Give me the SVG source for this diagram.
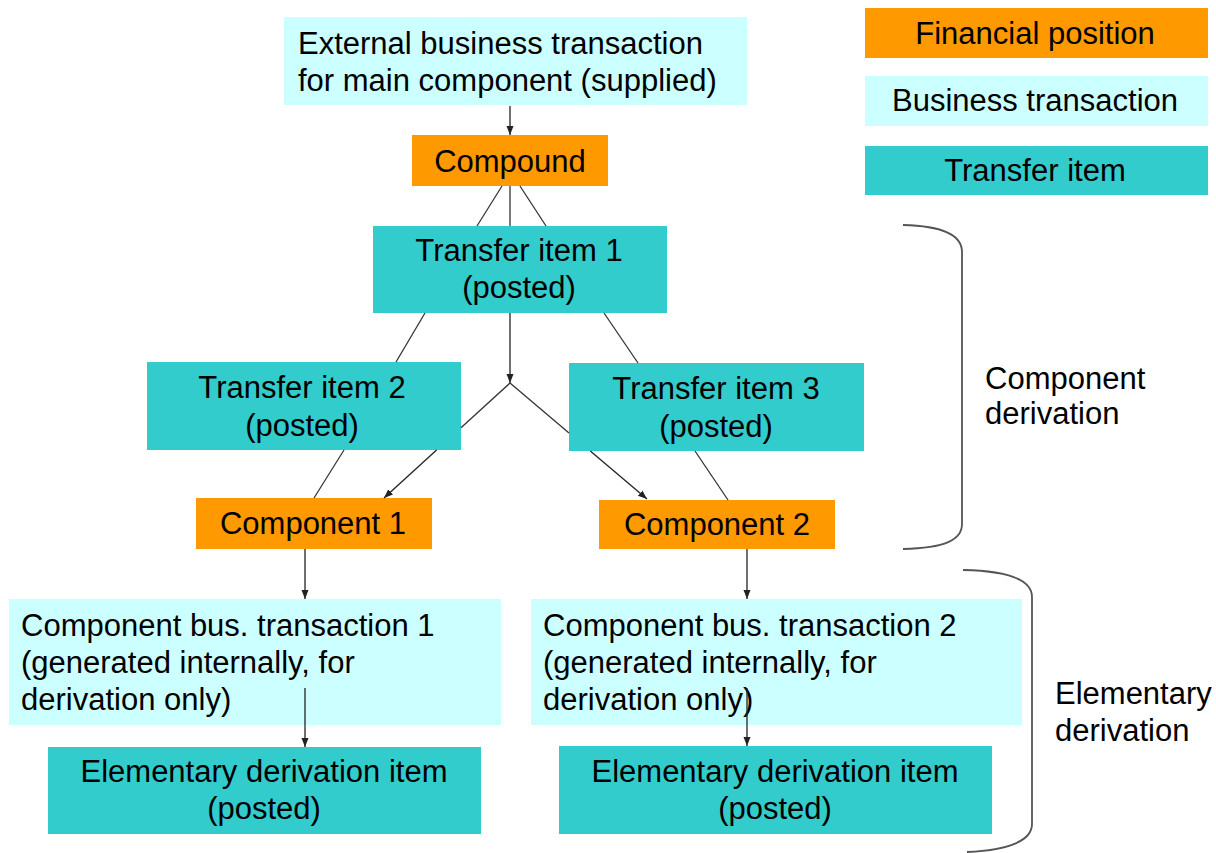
<svg xmlns="http://www.w3.org/2000/svg" width="1216" height="853" viewBox="0 0 1216 853">
<defs>
<style>
text{font-family:"Liberation Sans",Arial,sans-serif;font-size:31px;fill:#000}
.c{text-anchor:middle}
.fin{fill:#FF9900}
.bus{fill:#CCFFFF}
.tra{fill:#33CCCC}
.ln{stroke:#333;stroke-width:1.3;fill:none}
.ar{stroke:#222;stroke-width:1.3;fill:none;marker-end:url(#ah)}
.br{stroke:#555;stroke-width:1.8;fill:none}
</style>
<marker id="ah" markerUnits="userSpaceOnUse" markerWidth="10" markerHeight="10" viewBox="0 0 10 10" refX="9" refY="5" orient="auto">
<path d="M0,1.5 L9,5 L0,8.5 z" fill="#222"/>
</marker>
</defs>
<rect width="1216" height="853" fill="#fff"/>

<g id="legend-financial"><rect class="fin" x="865" y="8" width="343" height="50"/><text class="c" x="1035" y="44">Financial position</text></g>
<g id="legend-business"><rect class="bus" x="865" y="76" width="343" height="50"/><text class="c" x="1035" y="111">Business transaction</text></g>
<g id="legend-transfer"><rect class="tra" x="865" y="146" width="343" height="49"/><text class="c" x="1035" y="181">Transfer item</text></g>

<g id="external"><rect class="bus" x="284" y="17" width="463" height="88"/><text x="298" y="54">External business transaction</text><text x="298" y="91">for main component (supplied)</text></g>
<g id="compound"><rect class="fin" x="412" y="135" width="196" height="51"/><text class="c" x="510" y="172">Compound</text></g>
<g id="ti1"><rect class="tra" x="373" y="226" width="294" height="87"/><text class="c" x="519" y="261">Transfer item 1</text><text class="c" x="519" y="298">(posted)</text></g>
<g id="ti2"><rect class="tra" x="147" y="362" width="314" height="88"/><text class="c" x="302" y="398">Transfer item 2</text><text class="c" x="302" y="436">(posted)</text></g>
<g id="ti3"><rect class="tra" x="569" y="363" width="295" height="88"/><text class="c" x="716" y="399">Transfer item 3</text><text class="c" x="716" y="437">(posted)</text></g>
<g id="comp1"><rect class="fin" x="196" y="498" width="236" height="51"/><text class="c" x="313" y="534">Component 1</text></g>
<g id="comp2"><rect class="fin" x="599" y="500" width="236" height="49"/><text class="c" x="717" y="535">Component 2</text></g>
<g id="cbt1"><rect class="bus" x="9" y="599" width="492" height="126"/><text x="21" y="636">Component bus. transaction 1</text><text x="21" y="673">(generated internally, for</text><text x="21" y="710">derivation only)</text></g>
<g id="cbt2"><rect class="bus" x="531" y="599" width="491" height="126"/><text x="543" y="636">Component bus. transaction 2</text><text x="543" y="673">(generated internally, for</text><text x="543" y="710">derivation only)</text></g>
<g id="elem1"><rect class="tra" x="48" y="747" width="433" height="87"/><text class="c" x="264" y="782">Elementary derivation item</text><text class="c" x="264" y="819">(posted)</text></g>
<g id="elem2"><rect class="tra" x="559" y="746" width="433" height="88"/><text class="c" x="775" y="782">Elementary derivation item</text><text class="c" x="775" y="819">(posted)</text></g>

<g id="connectors">
<line class="ar" x1="510" y1="106" x2="510" y2="135"/>
<line class="ln" x1="502" y1="186" x2="477" y2="226"/>
<line class="ln" x1="510" y1="186" x2="510" y2="226"/>
<line class="ln" x1="520" y1="186" x2="546" y2="226"/>
<line class="ln" x1="425" y1="313" x2="396" y2="362"/>
<line class="ln" x1="604" y1="313" x2="638" y2="363"/>
<line class="ar" x1="510" y1="313" x2="510" y2="383"/>
<line class="ln" x1="510" y1="383" x2="461" y2="427.7"/>
<line class="ar" x1="436.6" y1="450" x2="384" y2="498"/>
<line class="ln" x1="510" y1="383" x2="569" y2="433"/>
<line class="ar" x1="590.3" y1="451" x2="647" y2="499"/>
<line class="ln" x1="344" y1="450" x2="314" y2="498"/>
<line class="ln" x1="695" y1="451" x2="728" y2="500"/>
<line class="ar" x1="305" y1="549" x2="305" y2="599"/>
<line class="ar" x1="305" y1="688" x2="305" y2="747"/>
<line class="ar" x1="747" y1="549" x2="747" y2="599"/>
<line class="ar" x1="747" y1="688" x2="747" y2="746"/>
</g>

<g id="bracket-component">
<path class="br" d="M903,225 C945,226 962,236 962,252 L962,524 C962,540 945,548 903,549"/>
<text x="985" y="389">Component</text><text x="985" y="424">derivation</text>
</g>
<g id="bracket-elementary">
<path class="br" d="M963,570 C1010,571 1032,580 1032,597 L1032,824 C1032,840 1010,850 967,852"/>
<text x="1055" y="704">Elementary</text><text x="1055" y="741">derivation</text>
</g>
</svg>
